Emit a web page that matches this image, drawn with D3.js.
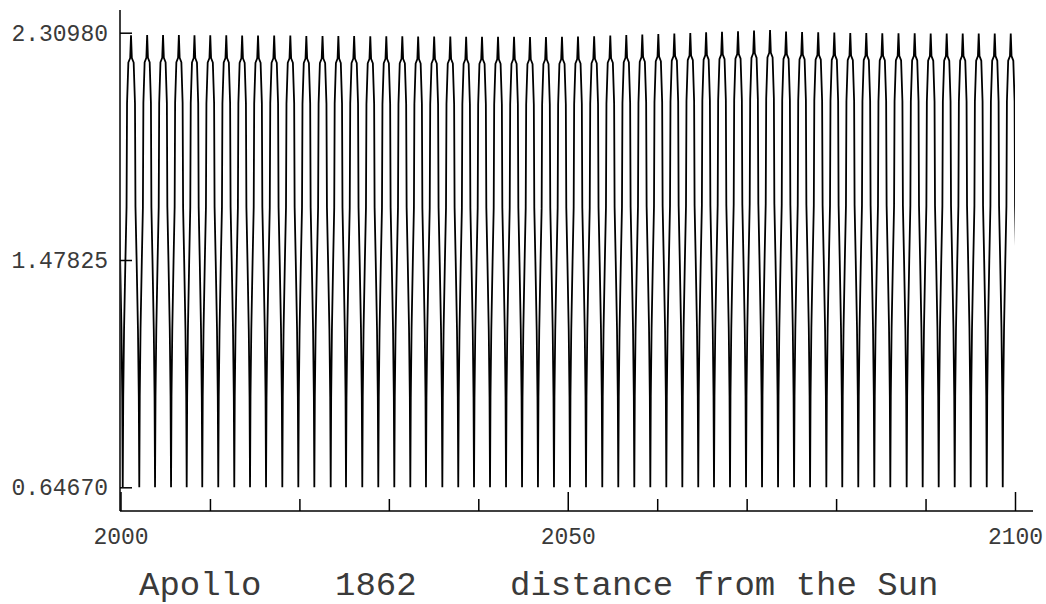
<!DOCTYPE html>
<html>
<head>
<meta charset="utf-8">
<script src="https://cdn.jsdelivr.net/npm/d3@7"></script>
<style>
  body { margin: 0; background: #fff; }
  svg text { font-family: 'Liberation Mono', 'Courier New', monospace; fill: #3a3a3a; }
</style>
</head>
<body>
<div id="chart"></div>
<script>
const width = 1046;
const height = 604;

// perihelion passages (years) read off the bottom of each dip,
// first and last ones lie just outside the 2000-2100 window
const periYears = [
  1998.46, 2000.25, 2002.10, 2003.86, 2005.65, 2007.40, 2009.14, 2010.93,
  2012.72, 2014.48, 2016.27, 2018.09, 2019.88, 2021.67, 2023.50, 2025.21,
  2027.03, 2028.82, 2030.61, 2032.40, 2034.15, 2035.98, 2037.76, 2039.52,
  2041.31, 2043.10, 2044.89, 2046.67, 2048.46, 2050.25, 2052.04, 2053.86,
  2055.65, 2057.44, 2059.23, 2061.02, 2062.81, 2064.59, 2066.35, 2068.14,
  2069.93, 2071.72, 2073.51, 2075.30, 2077.09, 2078.91, 2080.69, 2082.48,
  2084.27, 2086.06, 2087.89, 2089.68, 2091.47, 2093.26, 2095.05, 2096.84,
  2098.63, 2100.42,
];

// peak distance of each orbit (AU), one per interval between perihelia
const aphelionDist = [
  2.300, 2.300, 2.301, 2.301, 2.301, 2.300, 2.300, 2.300, 2.299, 2.299,
  2.299, 2.299, 2.298, 2.298, 2.298, 2.298, 2.297, 2.297, 2.297, 2.296,
  2.296, 2.296, 2.295, 2.295, 2.295, 2.295, 2.294, 2.294, 2.295, 2.296,
  2.297, 2.299, 2.301, 2.303, 2.305, 2.307, 2.309, 2.311, 2.313, 2.315,
  2.318, 2.320, 2.314, 2.312, 2.311, 2.310, 2.309, 2.309, 2.308, 2.308,
  2.308, 2.307, 2.307, 2.307, 2.307, 2.307, 2.307,
];

const perihelionDist = 0.6467;

// shape of one orbit as drawn in a single dip:
// share of the period vs share of the swing between perihelion and aphelion
const profilePhase = [0, 0.03, 0.08, 0.16, 0.23, 0.26, 0.34, 0.45, 0.5, 0.55, 0.66, 0.74, 0.77, 0.84, 0.92, 0.97];
const profileLevel = [0, 0.2, 0.35, 0.5, 0.62, 0.85, 0.94, 0.95, 1, 0.95, 0.94, 0.85, 0.62, 0.5, 0.35, 0.2];

const yTicks = [0.6467, 1.47825, 2.3098];
const xMinorTicks = [2010, 2020, 2030, 2040, 2060, 2070, 2080, 2090];
const xMajorTicks = [2000, 2050, 2100];
const title = [
  { text: 'Apollo', x: 139 },
  { text: '1862', x: 335 },
  { text: 'distance from the Sun', x: 510 },
];

const svg = d3
  .select('#chart')
  .append('svg')
  .attr('width', width)
  .attr('height', height);

const x = d3.scaleLinear().domain([2000, 2100]).range([120.5, 1015]);
const y = d3.scaleLinear().domain([0.6467, 2.3098]).range([487.3, 32.7]);

// build the track from the perihelion list and the orbit profile
let points = [];
for (let k = 0; k < periYears.length - 1; k++) {
  const t0 = periYears[k];
  const t1 = periYears[k + 1];
  const hi = aphelionDist[k];
  profilePhase.forEach((p, i) => {
    points.push([t0 + p * (t1 - t0), perihelionDist + profileLevel[i] * (hi - perihelionDist)]);
  });
}
points.push([periYears[periYears.length - 1], perihelionDist]);

svg
  .append('clipPath')
  .attr('id', 'plotClip')
  .append('rect')
  .attr('x', x(2000))
  .attr('y', 0)
  .attr('width', x(2100) - x(2000))
  .attr('height', height);

const line = d3
  .line()
  .x((d) => x(d[0]))
  .y((d) => y(d[1]));

svg
  .append('path')
  .datum(points)
  .attr('clip-path', 'url(#plotClip)')
  .attr('d', line)
  .attr('fill', 'none')
  .attr('stroke', '#000')
  .attr('stroke-width', 1.8)
  .attr('stroke-linejoin', 'bevel');

// axes
const axisY = 511;
svg
  .append('line')
  .attr('x1', 120)
  .attr('x2', 120)
  .attr('y1', 10)
  .attr('y2', axisY)
  .attr('stroke', '#000')
  .attr('stroke-width', 1.5);

svg
  .append('line')
  .attr('x1', 120)
  .attr('x2', 1033)
  .attr('y1', axisY)
  .attr('y2', axisY)
  .attr('stroke', '#000')
  .attr('stroke-width', 1.5);

const yAxis = svg
  .append('g')
  .attr('transform', 'translate(120,0)')
  .call(
    d3
      .axisLeft(y)
      .tickValues(yTicks)
      .tickSize(-12)
      .tickPadding(12)
      .tickFormat(d3.format('.5f'))
  );

const xMinor = svg
  .append('g')
  .attr('transform', `translate(0,${axisY})`)
  .call(d3.axisBottom(x).tickValues(xMinorTicks).tickSize(-12).tickFormat(''));

const xMajor = svg
  .append('g')
  .attr('transform', `translate(0,${axisY})`)
  .call(
    d3
      .axisBottom(x)
      .tickValues(xMajorTicks)
      .tickSize(-19)
      .tickPadding(17)
      .tickFormat(d3.format('d'))
  );

[yAxis, xMinor, xMajor].forEach((g) => {
  g.select('.domain').remove();
  g.selectAll('.tick line').attr('stroke', '#000').attr('stroke-width', 1.5);
  g.selectAll('.tick text')
    .attr('font-family', null)
    .attr('font-size', 23)
    .attr('fill', '#3a3a3a');
});

svg
  .selectAll('text.title')
  .data(title)
  .enter()
  .append('text')
  .attr('class', 'title')
  .attr('x', (d) => d.x)
  .attr('y', 595)
  .attr('font-size', 34)
  .text((d) => d.text);
</script>
</body>
</html>
